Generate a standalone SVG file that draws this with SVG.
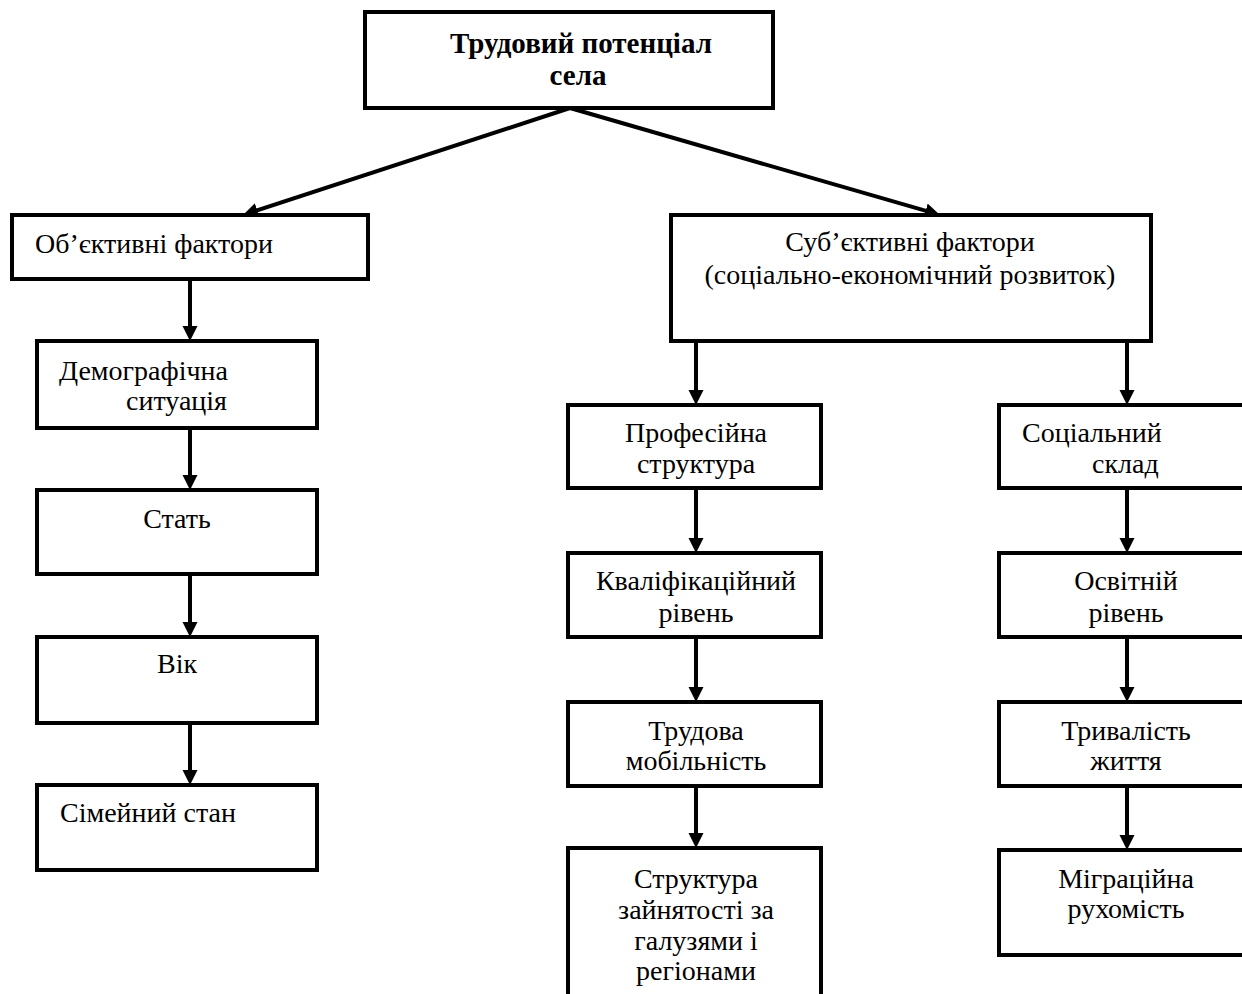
<svg xmlns="http://www.w3.org/2000/svg" width="1242" height="994" viewBox="0 0 1242 994">
  <style>
    .box { fill: #ffffff; stroke: #000000; stroke-width: 4; }
    .lbl { font-family: "Liberation Serif", "Times New Roman", serif; font-size: 28px; fill: #000000; }
    .mid { text-anchor: middle; }
    .title { font-weight: bold; font-size: 29px; }
    .conn { stroke: #000000; stroke-width: 4; fill: none; marker-end: url(#head); }
  </style>
  <defs>
    <marker id="head" markerUnits="userSpaceOnUse" markerWidth="16" markerHeight="16" refX="5" refY="7.5" orient="auto">
      <path d="M0,0 L15,7.5 L0,15 Z" fill="#000000"/>
    </marker>
  </defs>
  <rect width="1242" height="994" fill="#ffffff"/>

  <!-- connectors -->
  <g id="connectors">
    <line class="conn" x1="570" y1="108" x2="252.5" y2="211.9"/>
    <line class="conn" x1="570" y1="108" x2="930.4" y2="212.2"/>
    <line class="conn" x1="190" y1="279" x2="190" y2="331"/>
    <line class="conn" x1="190" y1="428" x2="190" y2="480"/>
    <line class="conn" x1="190" y1="574" x2="190" y2="627"/>
    <line class="conn" x1="190" y1="723" x2="190" y2="775"/>
    <line class="conn" x1="696" y1="341" x2="696" y2="395"/>
    <line class="conn" x1="696" y1="488" x2="696" y2="543"/>
    <line class="conn" x1="696" y1="637" x2="696" y2="692"/>
    <line class="conn" x1="696" y1="786" x2="696" y2="838"/>
    <line class="conn" x1="1127" y1="341" x2="1127" y2="395"/>
    <line class="conn" x1="1127" y1="488" x2="1127" y2="543"/>
    <line class="conn" x1="1127" y1="637" x2="1127" y2="692"/>
    <line class="conn" x1="1127" y1="786" x2="1127" y2="840"/>
  </g>

  <!-- root -->
  <g id="root">
    <rect class="box" x="365" y="12" width="408" height="96"/>
    <text class="lbl title mid" x="581" y="53">Трудовий потенціал</text>
    <text class="lbl title mid" x="578" y="85">села</text>
  </g>

  <!-- objective branch -->
  <g id="objective">
    <rect class="box" x="12" y="215" width="356" height="64"/>
    <text class="lbl" x="35" y="253">Об’єктивні фактори</text>
  </g>
  <g id="demography">
    <rect class="box" x="37" y="341" width="280" height="87"/>
    <text class="lbl" x="59" y="380">Демографічна</text>
    <text class="lbl" x="126" y="410">ситуація</text>
  </g>
  <g id="sex">
    <rect class="box" x="37" y="490" width="280" height="84"/>
    <text class="lbl mid" x="177" y="528">Стать</text>
  </g>
  <g id="age">
    <rect class="box" x="37" y="637" width="280" height="86"/>
    <text class="lbl mid" x="177" y="673">Вік</text>
  </g>
  <g id="marital">
    <rect class="box" x="37" y="785" width="280" height="85"/>
    <text class="lbl" x="60" y="822">Сімейний стан</text>
  </g>

  <!-- subjective branch -->
  <g id="subjective">
    <rect class="box" x="671" y="215" width="480" height="126"/>
    <text class="lbl mid" x="910" y="251">Суб’єктивні фактори</text>
    <text class="lbl mid" x="910" y="284">(соціально-економічний розвиток)</text>
  </g>
  <g id="professional">
    <rect class="box" x="568" y="405" width="253" height="83"/>
    <text class="lbl mid" x="696" y="442">Професійна</text>
    <text class="lbl mid" x="696" y="473">структура</text>
  </g>
  <g id="qualification">
    <rect class="box" x="568" y="553" width="253" height="84"/>
    <text class="lbl mid" x="696" y="590">Кваліфікаційний</text>
    <text class="lbl mid" x="696" y="622">рівень</text>
  </g>
  <g id="mobility">
    <rect class="box" x="568" y="702" width="253" height="84"/>
    <text class="lbl mid" x="696" y="740">Трудова</text>
    <text class="lbl mid" x="696" y="770">мобільність</text>
  </g>
  <g id="employment">
    <rect class="box" x="568" y="848" width="253" height="170"/>
    <text class="lbl mid" x="696" y="888">Структура</text>
    <text class="lbl mid" x="696" y="919">зайнятості за</text>
    <text class="lbl mid" x="696" y="950">галузями і</text>
    <text class="lbl mid" x="696" y="980">регіонами</text>
  </g>
  <g id="social">
    <rect class="box" x="999" y="405" width="260" height="83"/>
    <text class="lbl" x="1022" y="442">Соціальний</text>
    <text class="lbl" x="1092" y="473">склад</text>
  </g>
  <g id="education">
    <rect class="box" x="999" y="553" width="260" height="84"/>
    <text class="lbl mid" x="1126" y="590">Освітній</text>
    <text class="lbl mid" x="1126" y="622">рівень</text>
  </g>
  <g id="lifespan">
    <rect class="box" x="999" y="702" width="260" height="84"/>
    <text class="lbl mid" x="1126" y="740">Тривалість</text>
    <text class="lbl mid" x="1126" y="770">життя</text>
  </g>
  <g id="migration">
    <rect class="box" x="999" y="850" width="260" height="105"/>
    <text class="lbl mid" x="1126" y="888">Міграційна</text>
    <text class="lbl mid" x="1126" y="918">рухомість</text>
  </g>
</svg>
